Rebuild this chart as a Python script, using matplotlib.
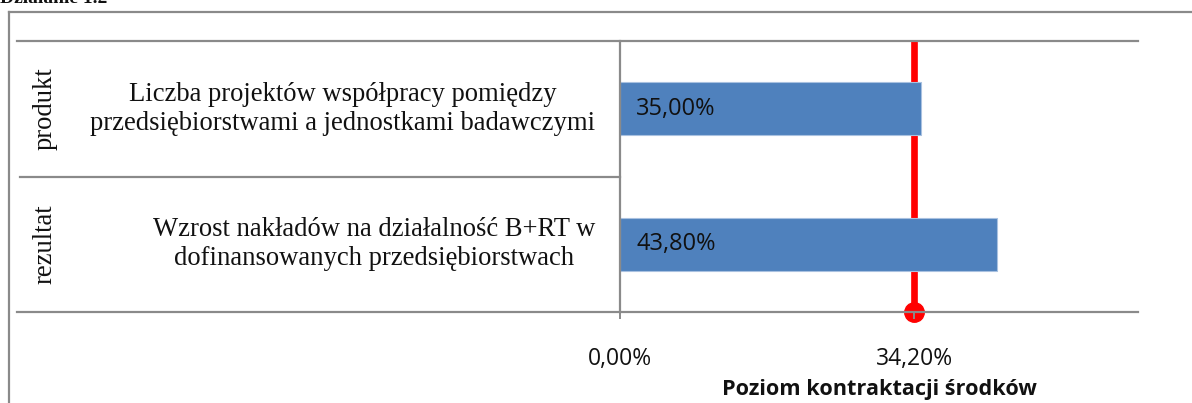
import matplotlib
matplotlib.use("Agg")
import matplotlib.pyplot as plt
from matplotlib.lines import Line2D

# ---- data ----
groups = ["rezultat", "produkt"]
indicators = [
    "Wzrost nakładów na działalność B+RT w\ndofinansowanych przedsiębiorstwach",
    "Liczba projektów współpracy pomiędzy\nprzedsiębiorstwami a jednostkami badawczymi",
]
values = [43.80, 35.00]
value_labels = ["43,80%", "35,00%"]
contract_level = 34.20
tick_values = [0.0, 34.20]
tick_labels = ["0,00%", "34,20%"]
title = "Działanie 1.2"
xlabel = "Poziom kontraktacji środków"

W, H = 1192, 403
fig = plt.figure(figsize=(W / 100, H / 100), dpi=100)

GRAY = "#8a8a8a"
BLUE = "#4f81bd"

# axes spanning from x=17 to x=1138 px, y=41 to y=312 px
ax_left, ax_right = 17, 1138
ax_top, ax_bot = 41, 312
ax = fig.add_axes([ax_left / W, 1 - ax_bot / H, (ax_right - ax_left) / W, (ax_bot - ax_top) / H])
ppu = 8.6  # px per percent
x0_px = 620
ax.set_xlim(-(x0_px - ax_left) / ppu, (ax_right - x0_px) / ppu)
ax.set_ylim(-0.5, 1.5)

for s in ["left", "right"]:
    ax.spines[s].set_visible(False)
for s in ["top", "bottom"]:
    ax.spines[s].set_color(GRAY)
    ax.spines[s].set_linewidth(1.6)

# red reference line
ax.plot([contract_level, contract_level], [-0.5, 1.5], color="#ff0000", lw=4.8,
        solid_capstyle="butt", zorder=2, clip_on=False)
ax.plot([contract_level], [-0.5], "o", color="#ff0000", ms=14, zorder=2, clip_on=False)

# bars
ypos = list(range(len(values)))
ax.barh(ypos, values, height=0.39, color=BLUE, edgecolor="#a9c1e0", linewidth=0.8, zorder=3)
for y, v, lab in zip(ypos, values, value_labels):
    ax.text(1.9, y, lab, va="center", ha="left", fontsize=17,
            family="Open Sans", color="#111111", zorder=4)

# vertical axis line at 0
ax.plot([0, 0], [-0.5, 1.5], color=GRAY, lw=1.6, zorder=5, clip_on=False)
# separator between rows on left side
ax.plot([ax.get_xlim()[0] + 0.35, 0], [0.5, 0.5], color=GRAY, lw=1.6, zorder=5)

# category texts
xt = -(x0_px - 595) / ppu
for y, txt in zip(ypos, indicators):
    ax.text(xt, y, txt, ha="right", va="center", multialignment="center",
            fontsize=19.2, family="Liberation Serif", linespacing=1.2, color="#111111")
xg = -(x0_px - 45) / ppu
for y, g in zip(ypos, groups):
    ax.text(xg, y, g, ha="center", va="center", rotation=90,
            fontsize=19.2, family="Liberation Serif", color="#111111")

# ticks
ax.set_yticks([])
ax.set_xticks(tick_values)
ax.set_xticklabels(tick_labels, family="Open Sans", fontsize=16.5, color="#111111")
ax.tick_params(axis="x", direction="out", length=5, width=1.4, color=GRAY, pad=20)
for t in ax.xaxis.get_major_ticks():
    t.tick1line.set_zorder(6)
ax.set_axisbelow(False)

ax.set_xlabel(xlabel, family="Open Sans", fontsize=15.6, fontweight="bold", color="#111111")
ax.xaxis.set_label_coords(((x0_px + ax_right) / 2 - ax_left) / (ax_right - ax_left),
                          -(389 - ax_bot) / (ax_bot - ax_top))
ax.xaxis.label.set_va("center")

# outer frame (partially visible)
fig.add_artist(Line2D([9 / W, 9 / W], [0, 1 - 12 / H], color=GRAY, lw=1.6))
fig.add_artist(Line2D([9 / W, 1], [1 - 12 / H, 1 - 12 / H], color=GRAY, lw=1.6))

# title mostly cut off at top
fig.text(0.0, 1 - 3 / H, title, ha="left", va="baseline", fontsize=14,
         fontweight="bold", family="Liberation Serif", color="#111111")

fig.savefig("out.png", dpi=100)
